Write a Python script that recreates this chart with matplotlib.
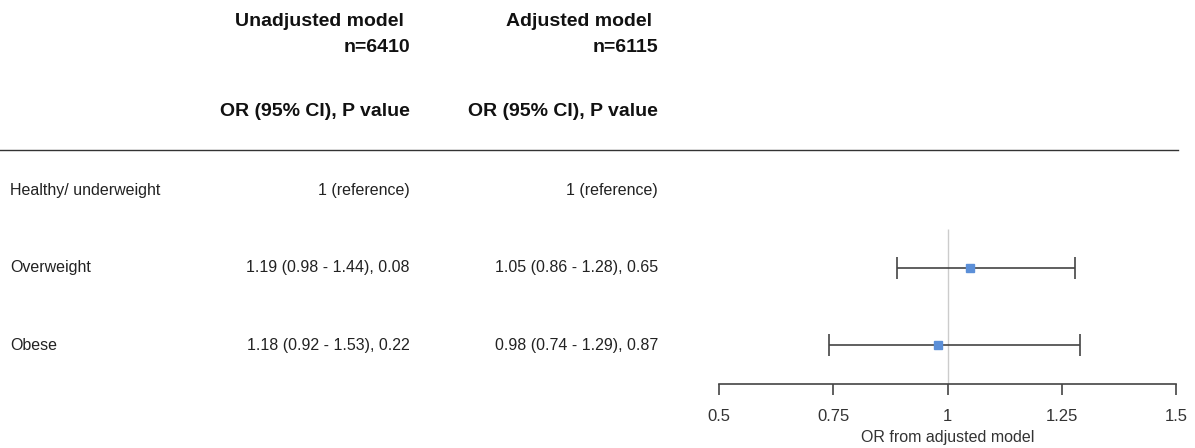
import matplotlib.pyplot as plt
from matplotlib.transforms import blended_transform_factory
from matplotlib.lines import Line2D

plt.rcParams['font.family'] = ['Liberation Sans', 'DejaVu Sans']

# data
groups = ['Healthy/ underweight', 'Overweight', 'Obese']
unadj_text = ['1 (reference)', '1.19 (0.98 - 1.44), 0.08', '1.18 (0.92 - 1.53), 0.22']
adj_text = ['1 (reference)', '1.05 (0.86 - 1.28), 0.65', '0.98 (0.74 - 1.29), 0.87']
# plotted values
adj_or = [None, 1.05, 0.98]
adj_lo = [None, 0.89, 0.74]
adj_hi = [None, 1.28, 1.29]
xticks = [0.5, 0.75, 1, 1.25, 1.5]
xticklabels = ['0.5', '0.75', '1', '1.25', '1.5']

W, H = 1195, 448
fig = plt.figure(figsize=(W / 100, H / 100), dpi=100)

# forest panel: bottom spine at y=384px, top at 150px
ax = fig.add_axes([719 / W, 1 - 384 / H, (1176 - 719) / W, (384 - 150) / H])
row_px = 77.5
ax.set_xlim(0.5, 1.5)
ax.set_ylim(2.5, 2.5 - (384 - 150) / row_px)

ax.vlines(1, 0.5, 2.5, color='#cccccc', lw=1, zorder=1)
for i in range(len(groups)):
    if adj_or[i] is None:
        continue
    ax.errorbar(adj_or[i], i, xerr=[[adj_or[i] - adj_lo[i]], [adj_hi[i] - adj_or[i]]],
                fmt='s', color='#555555', ecolor='#444444', elinewidth=1.2,
                capsize=8, capthick=1.2, markersize=6,
                markerfacecolor='#5b8fd8', markeredgecolor='#5b8fd8', zorder=3)

for s in ['top', 'left', 'right']:
    ax.spines[s].set_visible(False)
ax.spines['bottom'].set_color('#444444')
ax.spines['bottom'].set_linewidth(1.2)
ax.set_yticks([])
ax.set_xticks(xticks)
ax.set_xticklabels(xticklabels)
ax.tick_params(axis='x', direction='out', length=8, width=1.2, color='#444444',
               pad=10, labelsize=12, labelcolor='#333333')
ax.set_xlabel('OR from adjusted model', fontsize=11.5, color='#333333', labelpad=4)
ax.patch.set_alpha(0)

# table text, rows aligned with the forest panel
tr = blended_transform_factory(fig.transFigure, ax.transData)
for i, g in enumerate(groups):
    fig.text(10 / W, i, g, transform=tr, ha='left', va='center', fontsize=11.5, color='#222222')
    fig.text(410 / W, i, unadj_text[i], transform=tr, ha='right', va='center', fontsize=11.5, color='#222222')
    fig.text(658 / W, i, adj_text[i], transform=tr, ha='right', va='center', fontsize=11.5, color='#222222')

hdr = dict(fontsize=14, fontweight='bold', color='#111111', va='center')
fig.text(404 / W, 1 - 22 / H, 'Unadjusted model', ha='right', **hdr)
fig.text(410 / W, 1 - 47 / H, 'n=6410', ha='right', **hdr)
fig.text(652 / W, 1 - 22 / H, 'Adjusted model', ha='right', **hdr)
fig.text(658 / W, 1 - 47 / H, 'n=6115', ha='right', **hdr)
fig.text(410 / W, 1 - 112 / H, 'OR (95% CI), P value', ha='right', **hdr)
fig.text(658 / W, 1 - 112 / H, 'OR (95% CI), P value', ha='right', **hdr)

fig.add_artist(Line2D([0, 1178 / W], [1 - 150 / H, 1 - 150 / H], color='#333333', lw=1))

fig.savefig('out.png', dpi=100, facecolor='white')
